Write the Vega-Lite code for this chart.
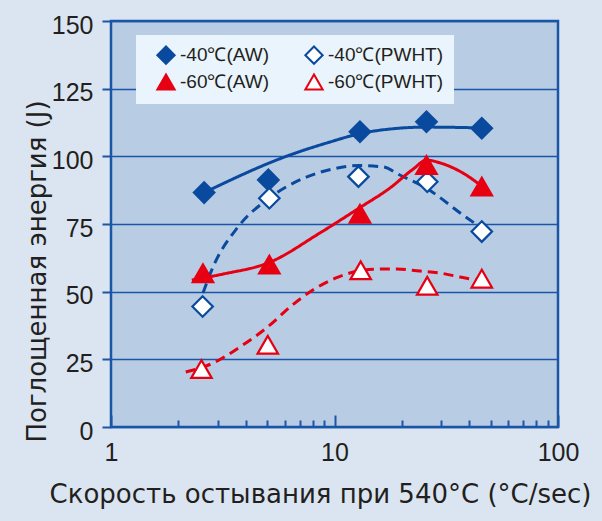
{
  "$schema": "https://vega.github.io/schema/vega-lite/v6.json",
  "width": 447,
  "height": 406,
  "autosize": {"type": "none"},
  "padding": {"left": 111, "top": 21, "right": 44, "bottom": 94},
  "background": "#dbe5f1",
  "config": {
    "view": {"fill": "#b8cce4", "stroke": "#1a56a6", "strokeWidth": 2.5},
    "font": "Liberation Sans, sans-serif"
  },
  "datasets": {
    "points": [
      {"series": "-40℃(AW)", "x": 2.61, "y": 86.6},
      {"series": "-40℃(AW)", "x": 5.06, "y": 91.3},
      {"series": "-40℃(AW)", "x": 13.0, "y": 109.1},
      {"series": "-40℃(AW)", "x": 25.8, "y": 112.8},
      {"series": "-40℃(AW)", "x": 45.6, "y": 110.4},
      {"series": "-40℃(PWHT)", "x": 2.57, "y": 44.5},
      {"series": "-40℃(PWHT)", "x": 5.11, "y": 84.5},
      {"series": "-40℃(PWHT)", "x": 12.8, "y": 92.5},
      {"series": "-40℃(PWHT)", "x": 26.0, "y": 90.6},
      {"series": "-40℃(PWHT)", "x": 45.6, "y": 72.2},
      {"series": "-60℃(AW)", "x": 2.58, "y": 56.8},
      {"series": "-60℃(AW)", "x": 5.11, "y": 60.0},
      {"series": "-60℃(AW)", "x": 13.0, "y": 78.8},
      {"series": "-60℃(AW)", "x": 25.8, "y": 96.8},
      {"series": "-60℃(AW)", "x": 45.6, "y": 88.8},
      {"series": "-60℃(PWHT)", "x": 2.54, "y": 21.4},
      {"series": "-60℃(PWHT)", "x": 5.03, "y": 30.4},
      {"series": "-60℃(PWHT)", "x": 13.1, "y": 57.9},
      {"series": "-60℃(PWHT)", "x": 26.0, "y": 52.2},
      {"series": "-60℃(PWHT)", "x": 45.6, "y": 54.8}
    ],
    "curves": [
      {"series": "-40℃(AW)", "x": 2.61, "y": 86.6},
      {"series": "-40℃(AW)", "x": 6.32, "y": 100.5},
      {"series": "-40℃(AW)", "x": 9.55, "y": 105.3},
      {"series": "-40℃(AW)", "x": 13.0, "y": 108.4},
      {"series": "-40℃(AW)", "x": 18.3, "y": 110.2},
      {"series": "-40℃(AW)", "x": 25.8, "y": 110.8},
      {"series": "-40℃(AW)", "x": 45.6, "y": 110.5},
      {"series": "-40℃(PWHT)", "x": 2.58, "y": 49.5},
      {"series": "-40℃(PWHT)", "x": 2.86, "y": 59.1},
      {"series": "-40℃(PWHT)", "x": 3.7, "y": 73.9},
      {"series": "-40℃(PWHT)", "x": 5.11, "y": 84.6},
      {"series": "-40℃(PWHT)", "x": 7.53, "y": 92.4},
      {"series": "-40℃(PWHT)", "x": 10.05, "y": 95.5},
      {"series": "-40℃(PWHT)", "x": 12.9, "y": 96.6},
      {"series": "-40℃(PWHT)", "x": 16.5, "y": 96.1},
      {"series": "-40℃(PWHT)", "x": 19.6, "y": 93.1},
      {"series": "-40℃(PWHT)", "x": 26.0, "y": 88.0},
      {"series": "-40℃(PWHT)", "x": 37.6, "y": 78.3},
      {"series": "-40℃(PWHT)", "x": 42.0, "y": 75.5},
      {"series": "-60℃(AW)", "x": 2.3, "y": 54.3},
      {"series": "-60℃(AW)", "x": 3.17, "y": 56.5},
      {"series": "-60℃(AW)", "x": 5.11, "y": 60.8},
      {"series": "-60℃(AW)", "x": 8.61, "y": 71.7},
      {"series": "-60℃(AW)", "x": 12.9, "y": 80.9},
      {"series": "-60℃(AW)", "x": 17.7, "y": 88.3},
      {"series": "-60℃(AW)", "x": 22.5, "y": 95.3},
      {"series": "-60℃(AW)", "x": 25.8, "y": 98.6},
      {"series": "-60℃(AW)", "x": 29.6, "y": 97.6},
      {"series": "-60℃(AW)", "x": 37.6, "y": 93.8},
      {"series": "-60℃(AW)", "x": 45.6, "y": 89.0},
      {"series": "-60℃(PWHT)", "x": 2.16, "y": 20.3},
      {"series": "-60℃(PWHT)", "x": 2.86, "y": 23.6},
      {"series": "-60℃(PWHT)", "x": 3.78, "y": 29.6},
      {"series": "-60℃(PWHT)", "x": 5.15, "y": 37.7},
      {"series": "-60℃(PWHT)", "x": 6.32, "y": 44.3},
      {"series": "-60℃(PWHT)", "x": 8.0, "y": 50.6},
      {"series": "-60℃(PWHT)", "x": 10.3, "y": 55.3},
      {"series": "-60℃(PWHT)", "x": 14.9, "y": 58.3},
      {"series": "-60℃(PWHT)", "x": 19.0, "y": 58.4},
      {"series": "-60℃(PWHT)", "x": 24.1, "y": 57.6},
      {"series": "-60℃(PWHT)", "x": 29.6, "y": 56.9},
      {"series": "-60℃(PWHT)", "x": 36.5, "y": 55.4},
      {"series": "-60℃(PWHT)", "x": 43.4, "y": 54.3}
    ]
  },
  "encoding": {
    "x": {
      "field": "x",
      "type": "quantitative",
      "scale": {"type": "log", "domain": [1, 100], "nice": false},
      "axis": {
        "title": "Скорость остывания при 540°C (°C/sec)",
        "values": [1, 2, 3, 4, 5, 6, 7, 8, 9, 10, 20, 30, 40, 50, 60, 70, 80, 90, 100],
        "labelExpr": "(datum.value == 1 || datum.value == 10 || datum.value == 100) ? format(datum.value, 'd') : ''",
        "labelOverlap": false,
        "labelFlush": false,
        "grid": false,
        "domain": false,
        "tickColor": "#1a56a6",
        "tickWidth": 2,
        "tickSize": {"condition": {"test": "datum.value == 1 || datum.value == 10 || datum.value == 100", "value": -12}, "value": -7},
        "labelFontSize": 25,
        "labelColor": "#231f20",
        "labelPadding": 25,
        "labelBaseline": "top",
        "titleFont": "DejaVu Sans",
        "titleFontSize": 26,
        "titleFontWeight": "normal",
        "titleColor": "#231f20",
        "titleX": 209,
        "titleY": 75,
        "titleBaseline": "alphabetic",
        "titleAlign": "center"
      }
    },
    "y": {
      "field": "y",
      "type": "quantitative",
      "scale": {"domain": [0, 150], "nice": false},
      "axis": {
        "title": "Поглощенная энергия (J)",
        "values": [0, 25, 50, 75, 100, 125, 150],
        "grid": true,
        "gridColor": "#1a56a6",
        "gridWidth": 1.5,
        "domain": false,
        "tickColor": "#1a56a6",
        "tickWidth": 2,
        "tickSize": 9,
        "labelFontSize": 25,
        "labelPadding": 9,
        "labelColor": "#231f20",
        "labelOffset": 4,
        "labelBaseline": "middle",
        "titleFont": "DejaVu Sans",
        "titleFontSize": 26,
        "titleFontWeight": "normal",
        "titleColor": "#231f20",
        "titleX": -74,
        "titleY": 250,
        "titleAngle": -90,
        "titleBaseline": "middle",
        "titleAlign": "center"
      }
    }
  },
  "layer": [
    {
      "data": {"name": "curves"},
      "mark": {"type": "line", "interpolate": "monotone", "strokeWidth": 3},
      "encoding": {
        "color": {
          "field": "series",
          "type": "nominal",
          "scale": {"range": ["#0a4a9e", "#0a4a9e", "#e60012", "#e60012"]},
          "legend": null
        },
        "strokeDash": {
          "field": "series",
          "type": "nominal",
          "scale": {"range": [[1, 0], [10, 6], [1, 0], [10, 6]]},
          "legend": null
        }
      }
    },
    {
      "data": {"name": "points"},
      "mark": {"type": "point", "size": 420, "opacity": 1, "strokeWidth": 2.2},
      "encoding": {
        "shape": {
          "field": "series",
          "type": "nominal",
          "scale": {"domain": ["-40℃(AW)", "-60℃(AW)", "-40℃(PWHT)", "-60℃(PWHT)"], "range": ["diamond", "triangle-up", "diamond", "triangle-up"]},
          "legend": {
            "title": null,
            "orient": "none",
            "legendX": 25,
            "legendY": 14,
            "columns": 2,
            "columnPadding": 24,
            "rowPadding": 2,
            "padding": 10,
            "symbolOffset": 10,
            "fillColor": "#eaf4fc",
            "labelFontSize": 19,
            "labelColor": "#231f20",
            "symbolSize": 300,
            "symbolStrokeWidth": 2,
            "labelOffset": 4
          }
        },
        "fill": {
          "field": "series",
          "type": "nominal",
          "scale": {"domain": ["-40℃(AW)", "-60℃(AW)", "-40℃(PWHT)", "-60℃(PWHT)"], "range": ["#0a4a9e", "#e60012", "#ffffff", "#ffffff"]}
        },
        "stroke": {
          "field": "series",
          "type": "nominal",
          "scale": {"domain": ["-40℃(AW)", "-60℃(AW)", "-40℃(PWHT)", "-60℃(PWHT)"], "range": ["#0a4a9e", "#e60012", "#0a4a9e", "#e60012"]}
        }
      }
    }
  ]
}
